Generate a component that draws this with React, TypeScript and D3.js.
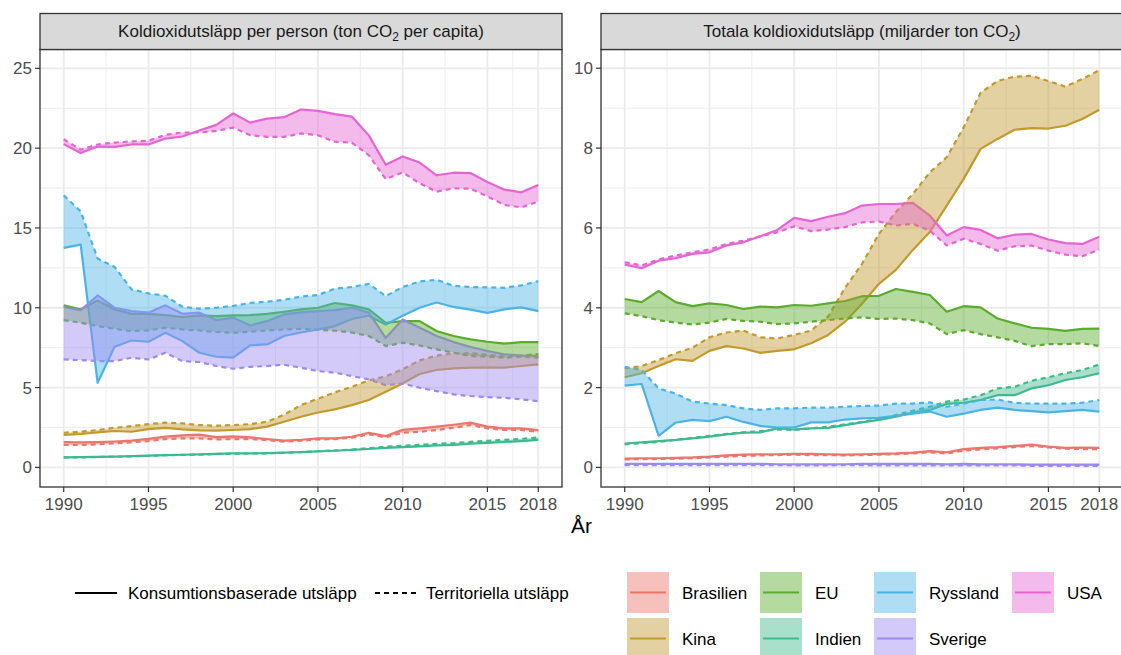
import React from "react";
import * as d3 from "d3";

// ---------- categories ----------
const years = [1990, 1991, 1992, 1993, 1994, 1995, 1996, 1997, 1998, 1999, 2000, 2001, 2002, 2003, 2004, 2005, 2006, 2007, 2008, 2009, 2010, 2011, 2012, 2013, 2014, 2015, 2016, 2017, 2018];
const countries = ["Brasilien", "Kina", "EU", "Indien", "Ryssland", "Sverige", "USA"];
const xTicks = [1990, 1995, 2000, 2005, 2010, 2015, 2018];
const xMinor = [1992.5, 1997.5, 2002.5, 2007.5, 2012.5, 2016.5];
const leftYTicks = [0, 5, 10, 15, 20, 25];
const leftYMinor = [2.5, 7.5, 12.5, 17.5, 22.5];
const rightYTicks = [0, 2, 4, 6, 8, 10];
const rightYMinor = [1, 3, 5, 7, 9];

// ---------- per capita (ton CO2 per capita) ----------
const brasilienPcKons = [1.58, 1.56, 1.58, 1.62, 1.68, 1.79, 1.93, 2.0, 2.05, 1.9, 1.94, 1.88, 1.77, 1.68, 1.73, 1.82, 1.82, 1.92, 2.17, 1.96, 2.35, 2.44, 2.55, 2.67, 2.8, 2.55, 2.44, 2.44, 2.34];
const brasilienPcTerr = [1.4, 1.4, 1.44, 1.5, 1.57, 1.65, 1.77, 1.82, 1.82, 1.75, 1.77, 1.77, 1.71, 1.61, 1.67, 1.75, 1.77, 1.86, 2.07, 1.88, 2.17, 2.23, 2.34, 2.48, 2.65, 2.44, 2.34, 2.34, 2.23];
const kinaPcKons = [2.03, 2.09, 2.19, 2.28, 2.23, 2.4, 2.48, 2.38, 2.32, 2.3, 2.34, 2.4, 2.55, 2.86, 3.17, 3.44, 3.63, 3.9, 4.22, 4.74, 5.26, 5.85, 6.1, 6.2, 6.25, 6.25, 6.25, 6.35, 6.45];
const kinaPcTerr = [2.17, 2.23, 2.34, 2.48, 2.59, 2.71, 2.8, 2.76, 2.65, 2.61, 2.65, 2.71, 2.86, 3.3, 3.9, 4.3, 4.7, 5.05, 5.45, 5.7, 6.15, 6.7, 7.0, 7.15, 7.15, 7.05, 6.95, 7.0, 7.1];
const euPcKons = [10.15, 9.9, 10.45, 9.9, 9.62, 9.62, 9.54, 9.42, 9.52, 9.48, 9.52, 9.54, 9.62, 9.75, 9.9, 10.0, 10.3, 10.15, 9.9, 9.06, 9.16, 9.16, 8.54, 8.23, 8.02, 7.87, 7.75, 7.85, 7.85];
const euPcTerr = [9.23, 9.06, 8.85, 8.68, 8.54, 8.58, 8.75, 8.64, 8.58, 8.48, 8.43, 8.5, 8.58, 8.64, 8.68, 8.62, 8.56, 8.45, 8.23, 7.6, 7.81, 7.64, 7.39, 7.18, 6.97, 6.93, 6.87, 6.93, 6.87];
const indienPcKons = [0.63, 0.64, 0.66, 0.67, 0.7, 0.73, 0.77, 0.79, 0.81, 0.85, 0.88, 0.88, 0.89, 0.92, 0.96, 1.0, 1.04, 1.09, 1.15, 1.22, 1.27, 1.31, 1.37, 1.41, 1.48, 1.53, 1.59, 1.65, 1.72];
const indienPcTerr = [0.62, 0.63, 0.65, 0.67, 0.69, 0.72, 0.76, 0.78, 0.8, 0.84, 0.86, 0.87, 0.88, 0.91, 0.96, 1.01, 1.06, 1.12, 1.2, 1.29, 1.35, 1.41, 1.47, 1.52, 1.6, 1.66, 1.72, 1.79, 1.87];
const rysslandPcKons = [13.75, 13.96, 5.3, 7.56, 7.95, 7.87, 8.43, 7.91, 7.18, 6.93, 6.87, 7.64, 7.7, 8.23, 8.45, 8.64, 8.85, 9.3, 9.5, 8.95, 9.5, 10.0, 10.33, 10.05, 9.88, 9.68, 9.9, 10.02, 9.79];
const rysslandPcTerr = [17.04, 16.04, 13.08, 12.56, 11.15, 10.9, 10.75, 10.06, 9.94, 10.0, 10.12, 10.3, 10.38, 10.5, 10.7, 10.8, 11.2, 11.3, 11.5, 10.73, 11.3, 11.65, 11.75, 11.38, 11.3, 11.28, 11.25, 11.4, 11.67];
const sverigePcKons = [10.06, 9.85, 10.77, 10.0, 9.79, 9.69, 10.15, 9.62, 9.69, 9.23, 9.37, 8.89, 9.16, 9.58, 9.71, 9.79, 9.85, 10.0, 9.69, 8.1, 9.27, 8.75, 8.23, 7.85, 7.54, 7.29, 7.08, 7.01, 6.97];
const sverigePcTerr = [6.76, 6.72, 6.66, 6.66, 6.87, 6.76, 7.18, 6.66, 6.6, 6.35, 6.18, 6.3, 6.35, 6.43, 6.25, 6.03, 5.93, 5.72, 5.51, 5.15, 5.25, 4.99, 4.78, 4.57, 4.47, 4.4, 4.36, 4.26, 4.15];
const usaPcKons = [20.25, 19.69, 20.1, 20.08, 20.23, 20.23, 20.6, 20.73, 21.1, 21.46, 22.17, 21.6, 21.85, 21.94, 22.42, 22.33, 22.13, 21.98, 20.8, 18.96, 19.48, 19.1, 18.3, 18.46, 18.44, 17.88, 17.4, 17.23, 17.69];
const usaPcTerr = [20.56, 19.9, 20.23, 20.35, 20.42, 20.46, 20.83, 20.98, 20.98, 21.08, 21.29, 20.81, 20.71, 20.71, 20.92, 20.81, 20.4, 20.35, 19.56, 18.06, 18.48, 17.8, 17.27, 17.48, 17.46, 16.98, 16.44, 16.29, 16.65];

// ---------- totals (miljarder ton CO2) ----------
const brasilienTotKons = [0.22, 0.23, 0.23, 0.24, 0.25, 0.27, 0.3, 0.32, 0.33, 0.33, 0.34, 0.34, 0.33, 0.32, 0.33, 0.34, 0.35, 0.37, 0.41, 0.38, 0.46, 0.49, 0.51, 0.54, 0.57, 0.52, 0.49, 0.5, 0.49];
const brasilienTotTerr = [0.2, 0.21, 0.21, 0.22, 0.23, 0.25, 0.27, 0.29, 0.3, 0.31, 0.32, 0.31, 0.31, 0.3, 0.31, 0.32, 0.33, 0.35, 0.38, 0.35, 0.42, 0.45, 0.48, 0.51, 0.54, 0.5, 0.47, 0.46, 0.46];
const kinaTotKons = [2.26, 2.36, 2.54, 2.71, 2.67, 2.92, 3.04, 2.98, 2.87, 2.92, 2.96, 3.11, 3.32, 3.65, 4.1, 4.6, 4.95, 5.45, 5.9, 6.56, 7.23, 7.98, 8.23, 8.46, 8.5, 8.49, 8.56, 8.73, 8.96];
const kinaTotTerr = [2.48, 2.54, 2.69, 2.86, 3.0, 3.26, 3.38, 3.43, 3.26, 3.23, 3.32, 3.43, 3.78, 4.5, 5.1, 5.85, 6.4, 6.85, 7.39, 7.77, 8.52, 9.39, 9.68, 9.79, 9.81, 9.68, 9.54, 9.73, 9.95];
const euTotKons = [4.22, 4.14, 4.42, 4.14, 4.04, 4.11, 4.07, 3.97, 4.03, 4.01, 4.07, 4.05, 4.11, 4.17, 4.29, 4.3, 4.47, 4.4, 4.32, 3.9, 4.04, 4.01, 3.73, 3.61, 3.5, 3.47, 3.42, 3.47, 3.48];
const euTotTerr = [3.86, 3.79, 3.69, 3.63, 3.58, 3.63, 3.72, 3.67, 3.65, 3.59, 3.61, 3.65, 3.69, 3.73, 3.76, 3.72, 3.73, 3.69, 3.61, 3.34, 3.44, 3.34, 3.26, 3.17, 3.04, 3.09, 3.09, 3.11, 3.04];
const indienTotKons = [0.6, 0.63, 0.66, 0.69, 0.73, 0.77, 0.83, 0.87, 0.88, 0.98, 0.95, 0.98, 0.99, 1.06, 1.13, 1.19, 1.27, 1.37, 1.44, 1.59, 1.62, 1.69, 1.81, 1.81, 1.98, 2.06, 2.19, 2.26, 2.36];
const indienTotTerr = [0.58, 0.61, 0.64, 0.69, 0.74, 0.79, 0.84, 0.88, 0.91, 0.95, 0.94, 0.98, 1.02, 1.08, 1.14, 1.21, 1.31, 1.42, 1.52, 1.65, 1.7, 1.81, 1.98, 2.02, 2.17, 2.26, 2.36, 2.44, 2.58];
const rysslandTotKons = [2.05, 2.09, 0.79, 1.12, 1.19, 1.16, 1.27, 1.14, 1.04, 1.0, 1.0, 1.13, 1.13, 1.2, 1.23, 1.24, 1.29, 1.35, 1.4, 1.27, 1.35, 1.44, 1.5, 1.44, 1.41, 1.38, 1.41, 1.44, 1.4];
const rysslandTotTerr = [2.52, 2.44, 1.98, 1.85, 1.65, 1.6, 1.56, 1.48, 1.44, 1.48, 1.48, 1.5, 1.5, 1.52, 1.54, 1.55, 1.6, 1.6, 1.63, 1.52, 1.6, 1.69, 1.7, 1.62, 1.6, 1.6, 1.6, 1.62, 1.69];
const sverigeTotKons = [0.09, 0.09, 0.09, 0.09, 0.09, 0.09, 0.09, 0.09, 0.09, 0.08, 0.08, 0.08, 0.08, 0.08, 0.09, 0.09, 0.09, 0.09, 0.09, 0.08, 0.09, 0.08, 0.08, 0.08, 0.07, 0.07, 0.07, 0.07, 0.07];
const sverigeTotTerr = [0.06, 0.06, 0.06, 0.06, 0.06, 0.06, 0.06, 0.06, 0.06, 0.06, 0.05, 0.05, 0.05, 0.06, 0.06, 0.05, 0.05, 0.05, 0.05, 0.05, 0.05, 0.05, 0.05, 0.05, 0.04, 0.04, 0.04, 0.04, 0.04];
const usaTotKons = [5.08, 4.99, 5.18, 5.24, 5.35, 5.39, 5.56, 5.64, 5.79, 5.95, 6.25, 6.17, 6.28, 6.37, 6.56, 6.6, 6.6, 6.63, 6.31, 5.81, 6.02, 5.95, 5.74, 5.83, 5.85, 5.71, 5.62, 5.6, 5.78];
const usaTotTerr = [5.14, 5.06, 5.21, 5.31, 5.39, 5.46, 5.6, 5.68, 5.79, 5.89, 6.04, 5.92, 5.96, 6.02, 6.14, 6.16, 6.06, 6.1, 5.93, 5.56, 5.73, 5.6, 5.43, 5.54, 5.56, 5.43, 5.33, 5.29, 5.46];

const pcKons = [brasilienPcKons, kinaPcKons, euPcKons, indienPcKons, rysslandPcKons, sverigePcKons, usaPcKons];
const pcTerr = [brasilienPcTerr, kinaPcTerr, euPcTerr, indienPcTerr, rysslandPcTerr, sverigePcTerr, usaPcTerr];
const totKons = [brasilienTotKons, kinaTotKons, euTotKons, indienTotKons, rysslandTotKons, sverigeTotKons, usaTotKons];
const totTerr = [brasilienTotTerr, kinaTotTerr, euTotTerr, indienTotTerr, rysslandTotTerr, sverigeTotTerr, usaTotTerr];

// ---------- styles ----------
const palette = ["#EC766D", "#C39A2E", "#5BAC2C", "#3DBB8E", "#4BB4E6", "#9D89F2", "#E565D3"];
const FONT = "'Liberation Sans', Arial, Helvetica, sans-serif";
const FILL_ALPHA = 0.45;
const LINE_W = 2.2;
const DASH = "5,4";
const TOP = 49.5;
const BOTTOM = 487;
const STRIP_TOP = 13.5;

type PanelProps = {
  id: string;
  left: number;
  right: number;
  yDomain: [number, number];
  yTicks: number[];
  yMinor: number[];
  kons: number[][];
  terr: number[][];
  titleA: string;
  titleB: string;
};

function Panel(p: PanelProps) {
  const x = d3.scaleLinear().domain([1988.6, 2019.4]).range([p.left, p.right]);
  const y = d3.scaleLinear().domain(p.yDomain).range([BOTTOM, TOP]);
  const line = d3
    .line<number>()
    .x((_, i) => x(years[i]))
    .y((v) => y(v));
  const area = (k: number[], t: number[]) =>
    d3
      .area<number>()
      .x((_, i) => x(years[i]))
      .y0((_, i) => y(t[i]))
      .y1((_, i) => y(k[i]))(years) as string;
  const cx = (p.left + p.right) / 2;
  return (
    <g>
      <defs>
        <clipPath id={p.id}>
          <rect x={p.left} y={TOP} width={p.right - p.left} height={BOTTOM - TOP} />
        </clipPath>
      </defs>
      <rect x={p.left} y={TOP} width={p.right - p.left} height={BOTTOM - TOP} fill="#FFFFFF" />
      {p.yMinor.map((v) => (
        <line key={"ym" + v} x1={p.left} x2={p.right} y1={y(v)} y2={y(v)} stroke="#EBEBEB" strokeWidth={0.9} />
      ))}
      {xMinor.map((v) => (
        <line key={"xm" + v} x1={x(v)} x2={x(v)} y1={TOP} y2={BOTTOM} stroke="#EBEBEB" strokeWidth={0.9} />
      ))}
      {p.yTicks.map((v) => (
        <line key={"yM" + v} x1={p.left} x2={p.right} y1={y(v)} y2={y(v)} stroke="#EBEBEB" strokeWidth={1.8} />
      ))}
      {xTicks.map((v) => (
        <line key={"xM" + v} x1={x(v)} x2={x(v)} y1={TOP} y2={BOTTOM} stroke="#EBEBEB" strokeWidth={1.8} />
      ))}
      <g clipPath={`url(#${p.id})`}>
        {countries.map((c, i) => (
          <g key={"l" + c}>
            <path d={line(p.kons[i]) as string} fill="none" stroke={palette[i]} strokeWidth={LINE_W} strokeLinejoin="round" />
            <path d={line(p.terr[i]) as string} fill="none" stroke={palette[i]} strokeWidth={LINE_W} strokeDasharray={DASH} strokeLinejoin="round" />
          </g>
        ))}
        {countries.map((c, i) => (
          <path key={"r" + c} d={area(p.kons[i], p.terr[i])} fill={palette[i]} fillOpacity={FILL_ALPHA} stroke="none" />
        ))}
      </g>
      <rect x={p.left} y={TOP} width={p.right - p.left} height={BOTTOM - TOP} fill="none" stroke="#333333" strokeWidth={1.3} />
      <rect x={p.left} y={STRIP_TOP} width={p.right - p.left} height={TOP - STRIP_TOP} fill="#D9D9D9" stroke="#333333" strokeWidth={1.3} />
      <text x={cx} y={37} textAnchor="middle" fontSize={17} fill="#1A1A1A" fontFamily={FONT}>
        <tspan>{p.titleA}</tspan>
        <tspan dy={4} fontSize={12}>2</tspan>
        <tspan dy={-4}>{p.titleB}</tspan>
      </text>
      {p.yTicks.map((v) => (
        <g key={"yt" + v}>
          <line x1={p.left - 5} x2={p.left} y1={y(v)} y2={y(v)} stroke="#333333" strokeWidth={1.2} />
          <text x={p.left - 8} y={y(v) + 6} textAnchor="end" fontSize={17} fill="#4D4D4D" fontFamily={FONT}>
            {v}
          </text>
        </g>
      ))}
      {xTicks.map((v) => (
        <g key={"xt" + v}>
          <line x1={x(v)} x2={x(v)} y1={BOTTOM} y2={BOTTOM + 5} stroke="#333333" strokeWidth={1.2} />
          <text x={x(v)} y={510} textAnchor="middle" fontSize={17} fill="#4D4D4D" fontFamily={FONT}>
            {v}
          </text>
        </g>
      ))}
    </g>
  );
}

const legendCols = [627, 760, 874, 1012];
const legendRows = [572, 618];
const KEY_W = 42;
const KEY_H = 41;

export default function App() {
  return (
    <svg
      width={1121}
      height={655}
      viewBox="0 0 1121 655"
      style={{ position: "absolute", left: 0, top: 0, background: "#FFFFFF" }}
      fontFamily={FONT}
    >
      <rect x={0} y={0} width={1121} height={655} fill="#FFFFFF" />
      <Panel
        id="clipL"
        left={40}
        right={562}
        yDomain={[-1.23, 26.18]}
        yTicks={leftYTicks}
        yMinor={leftYMinor}
        kons={pcKons}
        terr={pcTerr}
        titleA="Koldioxidutsläpp per person (ton CO"
        titleB=" per capita)"
      />
      <Panel
        id="clipR"
        left={601}
        right={1123}
        yDomain={[-0.49, 10.47]}
        yTicks={rightYTicks}
        yMinor={rightYMinor}
        kons={totKons}
        terr={totTerr}
        titleA="Totala koldioxidutsläpp (miljarder ton CO"
        titleB=")"
      />
      <text x={581.5} y={533} textAnchor="middle" fontSize={21} fill="#000000">
        År
      </text>

      {/* linetype legend */}
      <line x1={75} x2={117} y1={593} y2={593} stroke="#000000" strokeWidth={LINE_W} />
      <text x={128} y={599} fontSize={17} fill="#000000">
        Konsumtionsbaserade utsläpp
      </text>
      <line x1={375} x2={417} y1={593} y2={593} stroke="#000000" strokeWidth={LINE_W} strokeDasharray={DASH} />
      <text x={426} y={599} fontSize={17} fill="#000000">
        Territoriella utsläpp
      </text>

      {/* fill legend, 2 rows filled by column */}
      {countries.map((c, i) => {
        const col = Math.floor(i / 2);
        const row = i % 2;
        const kx = legendCols[col];
        const ky = legendRows[row];
        return (
          <g key={"lg" + c}>
            <rect x={kx} y={ky} width={KEY_W} height={KEY_H} fill={palette[i]} fillOpacity={FILL_ALPHA} />
            <line x1={kx + 3} x2={kx + KEY_W - 3} y1={ky + KEY_H / 2} y2={ky + KEY_H / 2} stroke={palette[i]} strokeWidth={LINE_W} />
            <text x={kx + KEY_W + 13} y={ky + KEY_H / 2 + 6} fontSize={17} fill="#000000">
              {c}
            </text>
          </g>
        );
      })}
    </svg>
  );
}
